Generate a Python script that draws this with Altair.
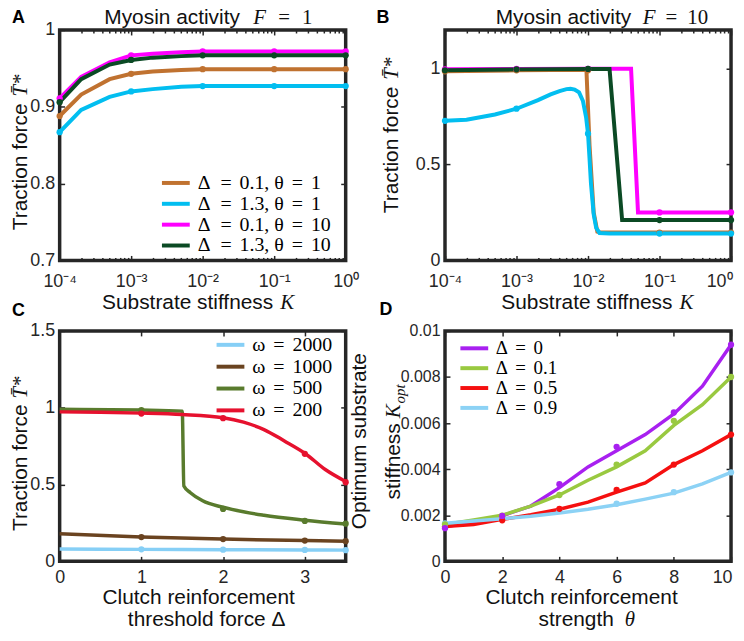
import altair as alt
import pandas as pd

FRAME = "#262626"
INK = "#111111"
SANS = "Liberation Sans"
SERIF = "Liberation Serif"
W, H = 288, 232
G = 64  # vertical gap between plot rows

# ---------------- Panel A : Myosin activity F = 1 ----------------
A_labels = ["Δ\u2002=\u2009\u20090.1, θ\u2009\u2009=\u2009\u20091",
            "Δ\u2002=\u2009\u20091.3, θ\u2009\u2009=\u2009\u20091",
            "Δ\u2002=\u2009\u20090.1, θ\u2009\u2009=\u2009\u200910",
            "Δ\u2002=\u2009\u20091.3, θ\u2009\u2009=\u2009\u200910"]
A_colors = ["#C07230", "#02BEF0", "#FF00FF", "#0B4A24"]
A_K = [1e-4, 2e-4, 5e-4, 1e-3, 2e-3, 5e-3, 1e-2, 1e-1, 1.0]
A_brown = [0.888, 0.916, 0.936, 0.943, 0.946, 0.948, 0.949, 0.949, 0.949]
A_cyan = [0.867, 0.896, 0.913, 0.920, 0.923, 0.926, 0.927, 0.927, 0.927]
A_magenta = [0.911, 0.939, 0.958, 0.967, 0.969, 0.971, 0.972, 0.972, 0.972]
A_green = [0.906, 0.936, 0.955, 0.961, 0.964, 0.966, 0.967, 0.967, 0.967]
A_Kmark = [1e-4, 1e-3, 1e-2, 1e-1, 1.0]
A_brown_m = [0.888, 0.943, 0.949, 0.949, 0.949]
A_cyan_m = [0.867, 0.920, 0.927, 0.927, 0.927]
A_magenta_m = [0.911, 0.967, 0.972, 0.972, 0.972]
A_green_m = [0.906, 0.961, 0.967, 0.967, 0.967]

# ---------------- Panel B : Myosin activity F = 10 ----------------
B_brown_K = [1e-4, 1e-3, 9.5e-3, 1.05e-2, 1.2e-2, 1.35e-2, 1.5e-2, 1e-1, 1.0]
B_brown = [0.985, 0.99, 0.993, 0.60, 0.25, 0.15, 0.145, 0.145, 0.145]
B_cyan_K = [1e-4, 2e-4, 5e-4, 1e-3, 2e-3, 3e-3, 4e-3, 5e-3, 5.7e-3, 6.5e-3, 7.5e-3,
            8.5e-3, 9.4e-3, 1e-2, 1.05e-2, 1.1e-2, 1.2e-2, 1.3e-2, 1.45e-2, 2e-2, 1e-1, 1.0]
B_cyan = [0.727, 0.733, 0.76, 0.79, 0.835, 0.865, 0.882, 0.892, 0.894, 0.89, 0.875,
          0.83, 0.745, 0.66, 0.53, 0.40, 0.24, 0.17, 0.143, 0.14, 0.14, 0.14]
B_magenta_K = [1e-4, 1e-3, 1e-2, 4e-2, 5e-2, 1e-1, 1.0]
B_magenta = [0.995, 0.997, 0.998, 0.998, 0.25, 0.25, 0.25]
B_green_K = [1e-4, 1e-3, 1e-2, 2e-2, 3e-2, 1e-1, 1.0]
B_green = [0.99, 0.995, 0.997, 0.997, 0.21, 0.21, 0.21]
B_Kmark = [1e-4, 1e-3, 1e-2, 1e-1, 1.0]
B_brown_m = [0.985, 0.99, 0.99, 0.145, 0.145]
B_cyan_m = [0.727, 0.79, 0.66, 0.14, 0.14]
B_magenta_m = [0.995, 0.997, 0.998, 0.25, 0.25]
B_green_m = [0.99, 0.995, 0.997, 0.21, 0.21]

# ---------------- Panel C : threshold force ----------------
C_labels = ["ω\u2009\u2009=\u2009\u20092000", "ω\u2009\u2009=\u2009\u20091000",
            "ω\u2009\u2009=\u2009\u2009500", "ω\u2009\u2009=\u2009\u2009200"]
C_colors = ["#86CFF6", "#6A4320", "#597B2D", "#E6112E"]
C_x = [0, 1, 2, 3, 3.5]
C_blue = [0.080, 0.078, 0.076, 0.074, 0.073]
C_brown = [0.179, 0.158, 0.145, 0.135, 0.131]
C_green_x = [0, 1, 1.5, 1.52, 1.6, 1.75, 2, 2.5, 3, 3.5]
C_green = [0.99, 0.985, 0.978, 0.49, 0.447, 0.394, 0.352, 0.30, 0.268, 0.243]
C_red_x = [0, 0.5, 1, 1.5, 2, 2.25, 2.5, 2.75, 3, 3.25, 3.5]
C_red = [0.973, 0.970, 0.965, 0.956, 0.935, 0.906, 0.858, 0.784, 0.704, 0.598, 0.52]
C_xmark = [1, 2, 3, 3.5]
C_blue_m = [0.078, 0.076, 0.074, 0.073]
C_brown_m = [0.158, 0.145, 0.135, 0.131]
C_green_m = [0.985, 0.341, 0.263, 0.245]
C_red_m = [0.962, 0.932, 0.70, 0.515]

# ---------------- Panel D : optimum stiffness ----------------
D_labels = ["Δ\u2009\u2009=\u2009\u20090", "Δ\u2009\u2009=\u2009\u20090.1",
            "Δ\u2009\u2009=\u2009\u20090.5", "Δ\u2009\u2009=\u2009\u20090.9"]
D_colors = ["#A820F0", "#99C940", "#F51010", "#8CD2F5"]
D_theta = [0, 1, 2, 3, 4, 5, 6, 7, 8, 9, 10]
D_purple = [0.0015, 0.00172, 0.00198, 0.00240, 0.0032, 0.0041, 0.0048, 0.0055, 0.0064, 0.0076, 0.0094]
D_green = [0.0016, 0.0018, 0.0020, 0.00240, 0.00288, 0.00352, 0.0041, 0.0048, 0.0059, 0.0068, 0.0080]
D_red = [0.00151, 0.0016, 0.00182, 0.00202, 0.00226, 0.00257, 0.0030, 0.0034, 0.0042, 0.0048, 0.0055]
D_blue = [0.00165, 0.00175, 0.00185, 0.00196, 0.0021, 0.00226, 0.00246, 0.0027, 0.00296, 0.00336, 0.00386]
D_tmark = [0, 2, 4, 6, 8, 10]
D_purple_m = [0.00144, 0.00197, 0.00335, 0.00497, 0.00646, 0.0094]
D_green_m = [0.0016, 0.00198, 0.00288, 0.0042, 0.0061, 0.0080]
D_red_m = [0.00151, 0.00178, 0.00228, 0.0031, 0.0042, 0.0055]
D_blue_m = [0.00165, 0.0018, 0.0022, 0.0025, 0.0030, 0.00386]

# tick positions
LOG_MAJOR = [1e-4, 1e-3, 1e-2, 1e-1, 1.0]
LOG_MINOR = [m * 10.0 ** e for e in range(-4, 0) for m in range(2, 10)]


def long(labels, xs, ys):
    rows = []
    for lab, x, y in zip(labels, xs, ys):
        for a, b in zip(x, y):
            rows.append({"s": lab, "x": a, "y": b})
    return pd.DataFrame(rows)


LOG_EXPR = ("round(log(datum.value)/LN10) == -4 ? '10⁻⁴' : "
            "round(log(datum.value)/LN10) == -3 ? '10⁻³' : "
            "round(log(datum.value)/LN10) == -2 ? '10⁻²' : "
            "round(log(datum.value)/LN10) == -1 ? '10⁻¹' : '10⁰'")


def ax(orient, values, labels=False, size=5, pad=5, fs=18, expr=None, fmt="~r",
       align=None, loff=None):
    kw = dict(orient=orient, values=values, title=None, domain=False, grid=False,
              ticks=True, tickSize=size, offset=-size, tickColor=FRAME, tickWidth=1.5,
              labels=labels)
    if labels:
        kw.update(labelFont=SANS, labelFontSize=fs, labelColor=FRAME, labelPadding=pad,
                  labelOverlap=False, labelFlush=False, labelBound=False)
        if expr:
            kw["labelExpr"] = expr
        else:
            kw["format"] = fmt
        if align:
            kw["labelAlign"] = align
        if loff is not None:
            kw["labelOffset"] = loff
    return alt.Axis(**kw)


def txt(s, x, y, size=21, font=SANS, style="normal", weight="normal", angle=0,
        align="left", color=INK):
    return alt.Chart(pd.DataFrame({"t": [s]})).mark_text(
        text=s, font=font, fontSize=size, fontStyle=style, fontWeight=weight,
        angle=angle, align=align, baseline="alphabetic", color=color
    ).encode(x=alt.value(x), y=alt.value(y))


def letter(s, x, y):
    return txt(s, x, y, size=18, weight="bold", color="#000000")


def legend(lx, ly, fs, rp):
    return alt.Legend(orient="none", legendX=lx, legendY=ly, title=None, direction="vertical",
                      symbolType="M-2,0H2", symbolSize=196, symbolStrokeWidth=4,
                      labelFont=SERIF, labelFontSize=fs, labelColor="#000000",
                      rowPadding=rp, labelOffset=12, padding=0, labelLimit=400)


def panel(lines, pts, xsc, ysc, xaxes, yaxes, labels, colors, leg, texts, sw, interp,
          extra_axes=()):
    cscale = alt.Scale(domain=labels, range=colors)
    base_line = alt.Chart(lines).mark_line(strokeWidth=sw, interpolate=interp).encode(
        x=alt.X("x:Q", scale=xsc, axis=xaxes[0]),
        y=alt.Y("y:Q", scale=ysc, axis=yaxes[0]),
        color=alt.Color("s:N", scale=cscale, legend=leg, sort=labels),
    )
    base_pts = alt.Chart(pts).mark_circle(size=40, opacity=1).encode(
        x=alt.X("x:Q", scale=xsc, axis=xaxes[1]),
        y=alt.Y("y:Q", scale=ysc, axis=yaxes[1]),
        color=alt.Color("s:N", scale=cscale, legend=None, sort=labels),
    )
    layers = [base_line, base_pts]
    for axm in extra_axes:
        layers.append(alt.Chart(pts).mark_point(opacity=0).encode(
            x=alt.X("x:Q", scale=xsc, axis=axm),
            y=alt.Y("y:Q", scale=ysc, axis=None)))
    layers += texts
    return alt.layer(*layers).resolve_axis(x="independent", y="independent").properties(
        width=W, height=H)


def xlog():
    return alt.Scale(type="log", domain=[1e-4, 1], nice=False)


HC = H / 2

# ---------- Panel A ----------
dfA = long(A_labels, [A_K] * 4, [A_brown, A_cyan, A_magenta, A_green])
ptA = long(A_labels, [A_Kmark] * 4, [A_brown_m, A_cyan_m, A_magenta_m, A_green_m])
textsA = [
    letter("A", -48, -7),
    txt("Myosin activity", 45, -6),
    txt("F", 195, -6, font=SERIF, style="italic"),
    txt("=", 220, -6, font=SERIF),
    txt("1", 244, -6, font=SERIF),
    txt("Substrate stiffness", 215, H + 49, align="right"),
    txt("K", 222, H + 49, font=SERIF, style="italic"),
    txt("Traction force", -33, HC - 42, angle=270, align="right"),
    txt("T\u0304*", -33, HC - 49, angle=270, font=SERIF, style="italic"),
    letter("C", -48, H + G - 8),
]
pA = panel(dfA, ptA, xlog(), alt.Scale(domain=[0.7, 1.0], zero=False, nice=False),
           [ax("bottom", LOG_MAJOR, labels=True, pad=12, expr=LOG_EXPR), ax("top", LOG_MAJOR)],
           [ax("left", [0.7, 0.8, 0.9, 1.0], labels=True, pad=5),
            ax("right", [0.7, 0.8, 0.9, 1.0])],
           A_labels, A_colors, legend(107, H - 88, 20, 1), textsA, 4, "linear",
           [ax("bottom", LOG_MINOR, size=3), ax("top", LOG_MINOR, size=3)])

# ---------- Panel B ----------
dfB = long(A_labels, [B_brown_K, B_cyan_K, B_magenta_K, B_green_K],
           [B_brown, B_cyan, B_magenta, B_green])
ptB = long(A_labels, [B_Kmark] * 4, [B_brown_m, B_cyan_m, B_magenta_m, B_green_m])
textsB = [
    letter("B", -69, -7),
    txt("Myosin activity", 51, -6),
    txt("F", 199, -6, font=SERIF, style="italic"),
    txt("=", 222, -6, font=SERIF),
    txt("10", 244, -6, font=SERIF),
    txt("Substrate stiffness", 229, H + 49, align="right"),
    txt("K", 236, H + 49, font=SERIF, style="italic"),
    txt("Traction force", -47, HC - 59, angle=270, align="right"),
    txt("T\u0304*", -47, HC - 66, angle=270, font=SERIF, style="italic"),
    letter("D", -66, H + G - 9),
]
pB = panel(dfB, ptB, xlog(), alt.Scale(domain=[0, 1.2], nice=False),
           [ax("bottom", LOG_MAJOR[:-1], labels=True, pad=12, expr=LOG_EXPR),
            ax("top", LOG_MAJOR)],
           [ax("left", [0, 0.5, 1.0], labels=True, pad=5), ax("right", [0, 0.5, 1.0])],
           A_labels, A_colors, None, textsB, 4, "linear",
           [ax("bottom", LOG_MINOR, size=3), ax("top", LOG_MINOR, size=3),
            ax("bottom", [1.0], labels=True, pad=12, expr=LOG_EXPR, align="right", loff=1)])

# ---------- Panel C ----------
dfC = long(C_labels, [C_x, C_x, C_green_x, C_red_x], [C_blue, C_brown, C_green, C_red])
ptC = long(C_labels, [C_xmark] * 4, [C_blue_m, C_brown_m, C_green_m, C_red_m])
textsC = [
    txt("Clutch reinforcement", 140, H + 43, align="center"),
    txt("threshold force Δ", 148, H + 65, align="center"),
    txt("Traction force", -33, HC - 42, angle=270, align="right"),
    txt("T\u0304*", -33, HC - 48, angle=270, font=SERIF, style="italic"),
]
pC = panel(dfC, ptC, alt.Scale(domain=[0, 3.5], nice=False),
           alt.Scale(domain=[0, 1.5], nice=False),
           [ax("bottom", [0, 1, 2, 3], labels=True, pad=7), ax("top", [0, 1, 2, 3])],
           [ax("left", [0, 0.5, 1.0, 1.5], labels=True, pad=5),
            ax("right", [0, 0.5, 1.0, 1.5])],
           C_labels, C_colors, legend(162, 4, 20, 2), textsC, 3.5, "monotone")

# ---------- Panel D ----------
dfD = long(D_labels, [D_theta] * 4, [D_purple, D_green, D_red, D_blue])
ptD = long(list(reversed(D_labels)), [D_tmark] * 4,
           [D_blue_m, D_red_m, D_green_m, D_purple_m])
textsD = [
    txt("Clutch reinforcement", 137.5, H + 43, align="center"),
    txt("strength", 170, H + 65, align="right"),
    txt("θ", 181, H + 65, font=SERIF, style="italic"),
    txt("Optimum substrate", -80, HC - 5, angle=270, align="center"),
    txt("stiffness", -45, HC - 23, angle=270, align="right"),
    txt("K", -45, HC - 28, angle=270, font=SERIF, style="italic"),
    txt("opt", -40, HC - 43, size=15, angle=270, font=SERIF, style="italic"),
]
D_yt = [0, 0.002, 0.004, 0.006, 0.008, 0.01]
pD = panel(dfD, ptD, alt.Scale(domain=[0, 10], nice=False),
           alt.Scale(domain=[0, 0.01], nice=False),
           [ax("bottom", [0, 2, 4, 6, 8], labels=True, pad=7),
            ax("top", [0, 2, 4, 6, 8, 10])],
           [ax("left", D_yt, labels=True, pad=5, fs=16), ax("right", D_yt)],
           D_labels, D_colors, legend(20, 8, 19, 0), textsD, 3.5, "linear",
           [ax("bottom", [10], labels=True, pad=7, align="right", loff=1)])

row1 = alt.hconcat(pA, pB, spacing=100, bounds="flush").resolve_scale(
    x="independent", y="independent", color="independent")
row2 = alt.hconcat(pC, pD, spacing=100, bounds="flush").resolve_scale(
    x="independent", y="independent", color="independent")
chart = alt.vconcat(row1, row2, spacing=-2).resolve_scale(
    x="independent", y="independent", color="independent"
).properties(padding={"top": -5, "left": 0, "right": -5, "bottom": 0}).configure_view(
    stroke=FRAME, strokeWidth=3.5)

chart.save("out.html", embed_options={"renderer": "svg", "actions": False})
